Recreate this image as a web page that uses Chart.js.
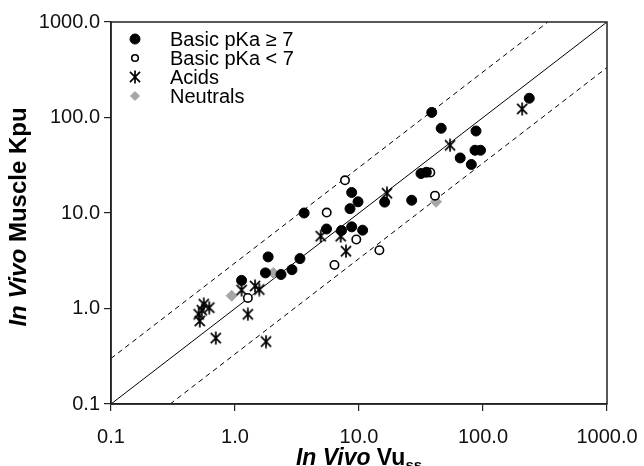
<!DOCTYPE html>
<html lang="en">
<head>
  <meta charset="UTF-8" />
  <title>In Vivo Muscle Kpu vs In Vivo Vuss</title>
  <script src="https://cdn.jsdelivr.net/npm/chart.js"></script>
  <style>
    html, body { margin: 0; padding: 0; background: #fff; }
    #wrap { width: 644px; height: 466px; }
  </style>
</head>
<body>
  <div id="wrap"><canvas id="kpuChart" width="644" height="466"></canvas></div>

  <script>
    // Basic pKa >= 7 (filled circles)
    const basicHighX = [1.13, 1.85, 1.76, 2.35, 2.88, 3.34, 3.61, 5.47, 7.23, 8.73, 10.7, 8.73, 9.82, 8.46, 16.1, 26.6, 31.6, 34.9, 38.6, 46.0, 87.8, 86.2, 95.5, 65.5, 80.5, 236];
    const basicHighY = [1.97, 3.47, 2.36, 2.27, 2.55, 3.33, 10.0, 6.80, 6.56, 7.16, 6.61, 16.4, 13.1, 11.1, 13.0, 13.6, 25.9, 26.7, 113, 77.1, 72.2, 45.4, 45.4, 37.7, 32.2, 159];

    // Basic pKa < 7 (open circles)
    const basicLowX = [1.27, 5.49, 6.34, 7.71, 9.51, 14.6, 37.6, 41.0];
    const basicLowY = [1.29, 10.1, 2.86, 22.0, 5.28, 4.08, 26.6, 15.2];

    // Acids (asterisks)
    const acidX = [0.56, 0.54, 0.62, 0.52, 0.51, 0.70, 1.13, 1.45, 1.57, 1.27, 1.78, 4.91, 7.12, 7.85, 16.8, 54.2, 207];
    const acidY = [1.11, 0.96, 1.02, 0.74, 0.87, 0.49, 1.56, 1.72, 1.58, 0.87, 0.45, 5.72, 5.72, 3.98, 16.1, 51.2, 123];

    // Neutrals (grey diamonds)
    const neutralX = [0.94, 2.04, 41.8];
    const neutralY = [1.36, 2.36, 13.1];

    // line of unity and 3-fold limits
    const unityX = [0.1, 1000];
    const unityY = [0.1, 1000];
    const upperX = [0.1, 333.3];
    const upperY = [0.3, 1000];
    const lowerX = [0.3, 1000];
    const lowerY = [0.1, 333.3];

    const tickVals = [0.1, 1, 10, 100, 1000];
    const tickLabels = ['0.1', '1.0', '10.0', '100.0', '1000.0'];

    const legendLabels = ['Basic pKa \u2265 7', 'Basic pKa < 7', 'Acids', 'Neutrals'];

    const FONT = '"Liberation Sans", Arial, sans-serif';

    function toPoints(xs, ys) {
      return xs.map((x, i) => ({ x: x, y: ys[i] }));
    }

    // asterisk marker: an X with a vertical bar
    function makeAsterisk(size) {
      const c = document.createElement('canvas');
      c.width = size;
      c.height = size;
      const g = c.getContext('2d');
      const m = size / 2;
      const d = size * 0.36;
      g.strokeStyle = '#000';
      g.lineWidth = 1.7;
      g.beginPath();
      g.moveTo(m - d, m - d); g.lineTo(m + d, m + d);
      g.moveTo(m + d, m - d); g.lineTo(m - d, m + d);
      g.moveTo(m, 0.5); g.lineTo(m, size - 0.5);
      g.stroke();
      return c;
    }
    const asterisk = makeAsterisk(14);

    const datasets = [
      {
        label: legendLabels[0],
        data: toPoints(basicHighX, basicHighY),
        pointStyle: 'circle',
        pointRadius: 5,
        backgroundColor: '#000',
        borderColor: '#000',
        borderWidth: 1
      },
      {
        label: legendLabels[1],
        data: toPoints(basicLowX, basicLowY),
        pointStyle: 'circle',
        pointRadius: 4.2,
        backgroundColor: '#fff',
        borderColor: '#000',
        borderWidth: 1.6
      },
      {
        label: legendLabels[2],
        data: toPoints(acidX, acidY),
        pointStyle: asterisk,
        pointRadius: 7
      },
      {
        label: legendLabels[3],
        data: toPoints(neutralX, neutralY),
        pointStyle: 'rectRot',
        pointRadius: 5.5,
        backgroundColor: '#a6a6a6',
        borderColor: '#a6a6a6',
        borderWidth: 1
      },
      {
        label: 'unity',
        data: toPoints(unityX, unityY),
        showLine: true,
        pointRadius: 0,
        borderColor: '#000',
        borderWidth: 1
      },
      {
        label: 'upper',
        data: toPoints(upperX, upperY),
        showLine: true,
        pointRadius: 0,
        borderColor: '#000',
        borderWidth: 1,
        borderDash: [5, 4]
      },
      {
        label: 'lower',
        data: toPoints(lowerX, lowerY),
        showLine: true,
        pointRadius: 0,
        borderColor: '#000',
        borderWidth: 1,
        borderDash: [5, 4]
      }
    ];

    // frame, legend and axis titles
    const decorPlugin = {
      id: 'decor',
      afterDraw(chart) {
        const ctx = chart.ctx;
        const a = chart.chartArea;
        ctx.save();

        // box round the plot
        ctx.strokeStyle = '#222';
        ctx.lineWidth = 1.5;
        ctx.strokeRect(a.left, a.top, a.right - a.left, a.bottom - a.top);

        // legend
        const rows = [39, 58, 77, 96];
        const mx = 135;
        const tx = 170;
        ctx.font = '20px ' + FONT;
        ctx.fillStyle = '#000';
        ctx.textBaseline = 'middle';
        ctx.textAlign = 'left';
        for (let i = 0; i < 4; i++) {
          const ds = chart.data.datasets[i];
          const y = rows[i];
          if (ds.pointStyle === asterisk) {
            ctx.drawImage(asterisk, mx - asterisk.width / 2, y - asterisk.height / 2);
          } else {
            ctx.beginPath();
            if (ds.pointStyle === 'rectRot') {
              const r = 4.5;
              ctx.moveTo(mx, y - r); ctx.lineTo(mx + r, y); ctx.lineTo(mx, y + r); ctx.lineTo(mx - r, y);
              ctx.closePath();
            } else {
              const r = i === 0 ? ds.pointRadius : 3.3;
              ctx.arc(mx, y, r, 0, Math.PI * 2);
            }
            ctx.fillStyle = ds.backgroundColor;
            ctx.fill();
            ctx.lineWidth = ds.borderWidth;
            ctx.strokeStyle = ds.borderColor;
            ctx.stroke();
          }
          ctx.fillStyle = '#000';
          ctx.fillText(ds.label, tx, y + 1);
        }

        // x axis title: In Vivo Vu(ss)
        ctx.textBaseline = 'alphabetic';
        const italicPart = 'In Vivo';
        const plainPart = ' Vu';
        const subPart = 'ss';
        ctx.font = 'italic bold 23px ' + FONT;
        const w1 = ctx.measureText(italicPart).width;
        ctx.font = 'bold 23px ' + FONT;
        const w2 = ctx.measureText(plainPart).width;
        ctx.font = 'bold 15px ' + FONT;
        const w3 = ctx.measureText(subPart).width;
        let x0 = (a.left + a.right) / 2 - (w1 + w2 + w3) / 2;
        const by = 465;
        ctx.font = 'italic bold 23px ' + FONT;
        ctx.fillText(italicPart, x0, by);
        ctx.font = 'bold 23px ' + FONT;
        ctx.fillText(plainPart, x0 + w1, by);
        ctx.font = 'bold 15px ' + FONT;
        ctx.fillText(subPart, x0 + w1 + w2, by + 5);

        // y axis title: In Vivo Muscle Kpu
        ctx.translate(26, (a.top + a.bottom) / 2 + 4);
        ctx.rotate(-Math.PI / 2);
        const yItalic = 'In Vivo';
        const yPlain = ' Muscle Kpu';
        ctx.font = 'italic bold 24px ' + FONT;
        const v1 = ctx.measureText(yItalic).width;
        ctx.font = 'bold 24px ' + FONT;
        const v2 = ctx.measureText(yPlain).width;
        const s0 = -(v1 + v2) / 2;
        ctx.font = 'italic bold 24px ' + FONT;
        ctx.fillText(yItalic, s0, 0);
        ctx.font = 'bold 24px ' + FONT;
        ctx.fillText(yPlain, s0 + v1, 0);

        ctx.restore();
      }
    };

    function logAxis(size, isX) {
      return {
        type: 'logarithmic',
        min: 0.1,
        max: 1000,
        afterBuildTicks(scale) {
          scale.ticks = tickVals.map(v => ({ value: v }));
        },
        afterFit(scale) {
          if (isX) {
            scale.height = size;
            scale.paddingLeft = 0;
            scale.paddingRight = 0;
          } else {
            scale.width = size;
            scale.paddingTop = 0;
            scale.paddingBottom = 0;
          }
        },
        ticks: {
          autoSkip: false,
          maxRotation: 0,
          padding: isX ? 14 : 4,
          color: '#111',
          font: { family: FONT, size: 20 },
          callback: (value, index) => tickLabels[index]
        },
        grid: {
          display: true,
          drawOnChartArea: false,
          drawTicks: true,
          tickLength: 7,
          color: '#222',
          lineWidth: 1.2
        },
        border: { display: true, color: '#222', width: 1.5 }
      };
    }

    new Chart(document.getElementById('kpuChart'), {
      type: 'scatter',
      data: { datasets: datasets },
      options: {
        responsive: false,
        animation: false,
        devicePixelRatio: 1,
        layout: { padding: { left: 0, top: 22, right: 37, bottom: 0 } },
        plugins: {
          legend: { display: false },
          tooltip: { enabled: false }
        },
        scales: {
          x: logAxis(62, true),
          y: logAxis(111, false)
        }
      },
      plugins: [decorPlugin]
    });
  </script>
</body>
</html>
